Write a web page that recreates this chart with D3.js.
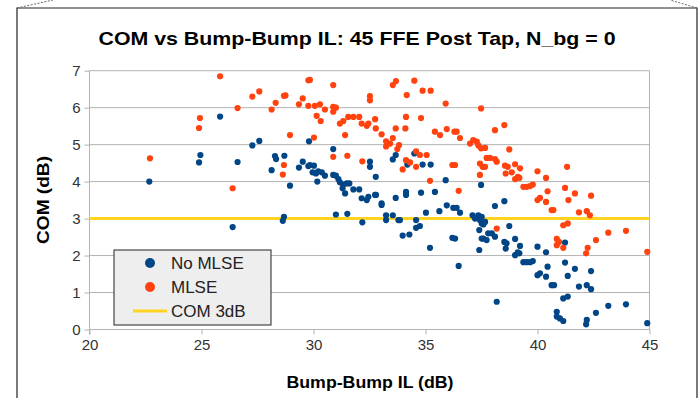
<!DOCTYPE html>
<html lang="en">
<head>
<meta charset="UTF-8">
<title>COM vs Bump-Bump IL</title>
<script src="https://d3js.org/d3.v7.min.js"></script>
<style>
    body { margin: 0; background: #fff; }
    svg { display: block; font-family: "Liberation Sans", Arial, sans-serif; }
    .grid line { stroke: #b3b3b3; stroke-width: 1px; }
    .axis text { fill: #333; font-size: 15px; font-family: "Liberation Sans", Arial, sans-serif; }
    .axis path, .axis line { stroke: #b3b3b3; }
</style>
</head>
<body>
<svg id="chart" width="699" height="398"></svg>
<script>
    // [Bump-Bump IL (dB), COM (dB)]
    const noMlse = [
        [22.67,4.00],[24.95,4.72],[24.89,4.52],[25.83,5.76],[26.61,4.53],[26.39,2.77],[27.27,4.98],[27.58,5.10],
        [28.13,4.31],[28.28,4.69],[28.33,4.61],[28.70,4.70],[28.68,3.05],[28.63,2.94],[28.95,3.89],[29.35,4.38],
        [29.52,4.54],[29.77,4.42],[29.80,5.09],[29.84,4.45],[30.02,4.43],[29.96,4.25],[30.11,4.22],[30.21,4.28],
        [30.37,4.25],[30.51,4.16],[30.17,4.00],[30.88,4.88],[30.88,4.18],[31.00,4.16],[31.11,4.07],[31.18,3.98],
        [31.33,3.92],[31.48,3.95],[31.60,3.95],[31.30,3.82],[31.41,3.68],[31.00,3.11],[31.51,3.13],[31.78,3.79],
        [32.04,3.79],[32.15,3.55],[32.38,3.50],[32.45,3.59],[32.75,3.64],[32.79,3.64],[32.18,2.90],[32.52,4.54],
        [32.52,4.40],[32.78,4.13],[33.04,3.41],[33.04,3.37],[33.24,3.09],[33.24,2.96],[33.54,3.09],[33.79,2.96],
        [33.86,2.96],[33.54,4.60],[33.67,4.72],[33.67,3.56],[33.98,2.54],[34.28,2.57],[34.13,3.72],[34.13,3.64],
        [34.19,4.46],[34.50,4.76],[34.58,2.96],[34.58,2.75],[34.75,2.80],[34.80,3.70],[34.87,4.46],[35.23,4.46],
        [35.02,3.16],[35.20,2.21],[35.42,3.72],[35.62,3.20],[35.90,4.04],[35.95,3.36],[36.24,3.29],[36.39,3.29],
        [36.54,3.16],[36.20,2.48],[36.32,2.46],[36.48,1.72],[37.10,3.09],[37.21,3.00],[37.36,3.09],[37.43,2.96],
        [37.51,3.05],[37.51,2.87],[37.40,2.69],[37.51,2.46],[37.40,2.15],[37.48,3.91],[37.58,2.84],[37.66,2.91],
        [38.10,3.34],[38.52,3.47],[38.74,2.80],[37.58,2.46],[37.80,2.60],[37.96,2.60],[38.10,2.51],[37.73,2.42],
        [38.52,2.37],[38.62,2.33],[38.58,2.19],[39.00,2.45],[39.22,2.26],[39.00,2.01],[39.12,2.09],[39.19,2.06],
        [39.37,1.82],[39.52,1.82],[39.67,1.82],[39.79,1.85],[40.00,2.24],[40.38,2.09],[40.00,1.47],[40.11,1.52],
        [40.38,1.43],[40.45,1.70],[40.63,1.20],[40.74,1.20],[38.18,0.75],[41.23,2.35],[41.23,1.81],[41.35,1.45],
        [41.67,1.64],[42.39,1.58],[41.85,1.16],[42.20,1.20],[42.39,1.09],[41.15,0.84],[41.35,0.89],[40.86,0.48],
        [40.86,0.35],[41.00,0.30],[41.15,0.23],[42.20,0.26],[42.17,0.14],[42.61,0.45],[43.16,0.64],[43.95,0.68],
        [44.90,0.17]
    ];
    const mlse = [
        [25.83,6.85],[22.70,4.63],[24.93,5.72],[24.89,5.45],[26.61,5.99],[26.39,3.82],[27.27,6.30],[27.58,6.44],
        [28.13,5.95],[28.31,6.13],[28.68,6.32],[28.75,6.33],[28.95,5.26],[28.68,4.45],[28.63,4.19],[29.35,6.09],
        [29.52,6.25],[29.77,6.74],[29.77,6.05],[29.84,6.75],[30.06,6.05],[30.29,6.09],[30.51,5.95],[30.88,6.61],
        [30.88,6.02],[31.00,6.00],[30.88,5.89],[30.14,5.78],[30.32,5.64],[30.02,5.19],[30.88,4.67],[31.51,4.70],
        [32.52,6.31],[32.52,6.20],[31.18,5.57],[31.33,5.64],[31.55,5.75],[31.78,5.75],[32.04,5.75],[32.15,5.57],
        [32.38,5.51],[32.45,5.57],[31.41,5.26],[32.18,4.55],[32.75,5.69],[32.78,5.44],[33.04,5.28],[33.24,5.09],
        [33.24,4.95],[33.54,6.61],[33.68,6.72],[34.16,6.34],[34.50,6.73],[34.87,6.46],[35.23,6.46],[34.13,5.75],
        [33.67,5.44],[34.10,5.44],[33.54,5.18],[33.42,5.03],[33.82,4.99],[33.74,4.88],[34.13,4.58],[34.31,4.52],
        [33.98,4.33],[34.58,4.82],[34.75,4.72],[34.58,4.40],[35.05,4.72],[35.20,4.02],[34.80,5.72],[35.42,5.35],
        [35.65,5.26],[35.90,6.11],[35.95,5.42],[36.29,5.35],[36.39,5.35],[36.54,5.18],[36.20,4.45],[36.32,4.45],
        [36.48,3.75],[37.48,5.98],[36.99,5.03],[37.13,5.12],[37.29,5.08],[37.43,4.49],[37.43,4.18],[37.55,4.40],
        [37.36,4.98],[37.48,4.90],[37.66,4.91],[38.10,5.39],[38.52,5.53],[37.66,4.40],[37.73,4.64],[37.88,4.64],
        [38.10,4.61],[38.18,4.54],[38.74,4.87],[38.55,4.43],[38.67,4.40],[38.58,4.22],[38.85,4.25],[39.00,4.47],
        [39.22,4.36],[39.00,4.07],[39.12,4.13],[39.19,4.10],[39.37,3.86],[39.52,3.86],[39.67,3.88],[39.79,3.92],
        [40.00,4.28],[40.38,4.10],[40.00,3.50],[40.11,3.56],[40.38,3.45],[40.45,3.74],[40.63,3.23],[40.71,3.23],
        [41.32,4.40],[41.23,3.83],[41.38,3.50],[41.67,3.68],[42.39,3.62],[41.85,3.17],[42.20,3.20],[42.34,3.09],
        [38.18,2.73],[41.15,2.82],[41.35,2.87],[40.86,2.45],[40.86,2.28],[40.96,2.37],[41.15,2.21],[42.24,2.21],
        [42.17,2.06],[42.61,2.42],[43.16,2.62],[43.95,2.67],[44.90,2.10]
    ];
    const comLimit = 3;
    const xTicks = [20, 25, 30, 35, 40, 45];
    const yTicks = [0, 1, 2, 3, 4, 5, 6, 7];
    const legendItems = ["No MLSE", "MLSE", "COM 3dB"];

    const colors = { noMlse: "#004586", mlse: "#ff420e", limit: "#ffd320" };
    const svg = d3.select("#chart");

    // outer frame with the cut-off corners
    svg.append("path").attr("d", "M17,398 L17,8 L697,8 L697,398")
        .attr("fill", "none").attr("stroke", "#222").attr("stroke-width", 1.2);
    svg.append("line").attr("x1", 17).attr("y1", 8).attr("x2", 53).attr("y2", 0)
        .attr("stroke", "#666").attr("stroke-dasharray", "2,1.5");
    svg.append("line").attr("x1", 697).attr("y1", 8).attr("x2", 670).attr("y2", 0)
        .attr("stroke", "#666").attr("stroke-dasharray", "2,1.5");

    const x = d3.scaleLinear().domain([20, 45]).range([89.5, 649.5]);
    const y = d3.scaleLinear().domain([0, 7]).range([329.5, 70.7]);

    // grid
    svg.append("g").attr("class", "grid").selectAll("line").data(yTicks).join("line")
        .attr("x1", x(20)).attr("x2", x(45)).attr("y1", d => y(d)).attr("y2", d => y(d));
    svg.append("line").attr("x1", x(45)).attr("x2", x(45)).attr("y1", y(7)).attr("y2", y(0))
        .attr("stroke", "#b3b3b3");

    svg.append("g").attr("class", "axis").attr("transform", `translate(${x(20)},0)`)
        .call(d3.axisLeft(y).tickValues(yTicks).tickFormat(d3.format("d")).tickSize(5).tickPadding(4))
        .call(g => g.select(".domain").attr("d", `M0,${y(7)}V${y(0) + 5}`));
    svg.append("g").attr("class", "axis").attr("transform", `translate(0,${y(0)})`)
        .call(d3.axisBottom(x).tickValues(xTicks).tickSize(5).tickPadding(5))
        .call(g => g.select(".domain").attr("d", `M${x(20)},0H${x(45)}`));

    svg.append("line")
        .attr("x1", x(20)).attr("x2", x(45)).attr("y1", y(comLimit)).attr("y2", y(comLimit))
        .attr("stroke", colors.limit).attr("stroke-width", 3);

    svg.append("g").selectAll("circle").data(noMlse).join("circle")
        .attr("cx", d => x(d[0])).attr("cy", d => y(d[1])).attr("r", 3.1).attr("fill", colors.noMlse);
    svg.append("g").selectAll("circle").data(mlse).join("circle")
        .attr("cx", d => x(d[0])).attr("cy", d => y(d[1])).attr("r", 3.1).attr("fill", colors.mlse);

    // titles
    svg.append("text").attr("x", 357).attr("y", 45).attr("text-anchor", "middle")
        .attr("font-size", 19).attr("font-weight", "bold").attr("fill", "#000")
        .attr("textLength", 517).attr("lengthAdjust", "spacingAndGlyphs")
        .text("COM vs Bump-Bump IL: 45 FFE Post Tap, N_bg = 0");
    svg.append("text").attr("transform", "translate(49,200) rotate(-90)").attr("text-anchor", "middle")
        .attr("font-size", 16).attr("font-weight", "bold")
        .attr("textLength", 88).attr("lengthAdjust", "spacingAndGlyphs").text("COM (dB)");
    svg.append("text").attr("x", 370).attr("y", 388).attr("text-anchor", "middle")
        .attr("font-size", 16).attr("font-weight", "bold")
        .attr("textLength", 167).attr("lengthAdjust", "spacingAndGlyphs").text("Bump-Bump IL (dB)");

    // legend
    const lg = svg.append("g").attr("transform", "translate(114,250)");
    lg.append("rect").attr("width", 157).attr("height", 75)
        .attr("fill", "#eeeeee").attr("stroke", "#222").attr("stroke-width", 1);
    const rows = lg.selectAll("g").data(legendItems).join("g")
        .attr("transform", (d, i) => `translate(0,${13 + i * 24})`);
    rows.each(function (d, i) {
        const r = d3.select(this);
        if (i < 2) {
            r.append("circle").attr("cx", 36).attr("cy", 0).attr("r", 5)
                .attr("fill", i === 0 ? colors.noMlse : colors.mlse);
        } else {
            r.append("line").attr("x1", 19).attr("x2", 53).attr("y1", 0).attr("y2", 0)
                .attr("stroke", colors.limit).attr("stroke-width", 3);
        }
        r.append("text").attr("x", 57).attr("y", 6).attr("font-size", 17).attr("fill", "#222").text(d);
    });
</script>
</body>
</html>
